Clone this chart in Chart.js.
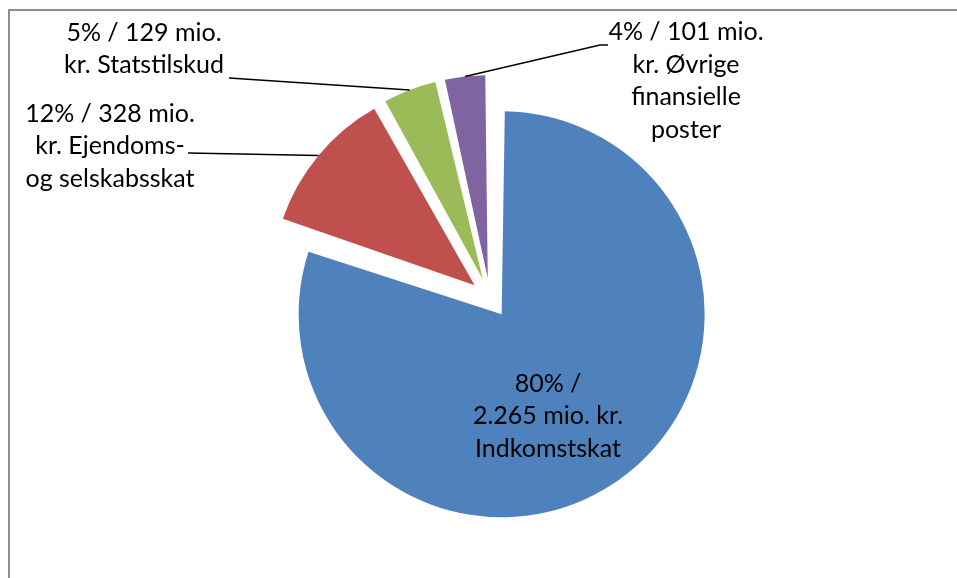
<!DOCTYPE html>
<html>
<head>
<meta charset="utf-8">
<script src="https://cdn.jsdelivr.net/npm/chart.js@4.4.1/dist/chart.umd.min.js"></script>
<style>
  html, body { margin: 0; padding: 0; background: #fff; overflow: hidden; }
  #frame { position: absolute; left: 8px; top: 9px; width: 960px; height: 580px;
           border-left: 2px solid #8e8e8e; border-top: 2px solid #8e8e8e; }
  #chart { position: absolute; left: 0; top: 0; }
</style>
</head>
<body>
<div id="frame"></div>
<canvas id="chart" width="957" height="578"></canvas>
<script>
const categories = ['Indkomstskat', 'Ejendoms- og selskabsskat', 'Statstilskud', 'Øvrige finansielle poster'];
const amounts = [2265, 328, 129, 101]; // mio. kr.
const labelLines = [
  ['80% /', '2.265 mio. kr.', 'Indkomstskat'],
  ['12% / 328 mio.', 'kr. Ejendoms-', 'og selskabsskat'],
  ['5% / 129 mio.', 'kr. Statstilskud'],
  ['4% / 101 mio.', 'kr. Øvrige', 'finansielle', 'poster']
];
const sliceColors = ['#4F81BD', '#C0504D', '#9BBB59', '#8064A2'];

const explode = 20;   // px every slice is pulled out from the centre
const pieRadius = 203;
const lineGap = 32.5;
// label block centre + leader line start, relative to the pie centre
const labelSpots = [
  { x: 58, y: 118 },
  { x: -380, y: -152, line: [[-302, -145]] },
  { x: -346, y: -249, line: [[-261, -220]] },
  { x: 196, y: -217, line: [[118, -253], [110, -253]] }
];

// chart.js also grows an offset arc by offset/4 * fix; this is that fix
function growFix(circ) {
  return 1 - Math.sin(Math.min(Math.PI, circ));
}

function pulled(arc, r) {
  const half = (arc.startAngle + arc.endAngle) / 2;
  const off = arc.options.offset / 4;
  return { x: arc.x + Math.cos(half) * off, y: arc.y + Math.sin(half) * off, half: half, r: r };
}

const pieLabels = {
  id: 'pieLabels',
  beforeDatasetsDraw(chart) {
    // keep all slices on the same radius after the pull-out
    const meta = chart.getDatasetMeta(0);
    const base = meta.controller.outerRadius;
    meta.data.forEach(arc => {
      arc.outerRadius = base - arc.options.offset / 4 * growFix(arc.circumference);
    });
  },
  afterDatasetsDraw(chart) {
    const ctx = chart.ctx;
    const area = chart.chartArea;
    const cx = (area.left + area.right) / 2;
    const cy = (area.top + area.bottom) / 2;
    const meta = chart.getDatasetMeta(0);
    const base = meta.controller.outerRadius;
    ctx.save();
    ctx.font = '25px Lato';
    ctx.fillStyle = '#000';
    ctx.strokeStyle = '#000';
    ctx.lineWidth = 1.5;
    ctx.textAlign = 'center';
    ctx.textBaseline = 'middle';
    meta.data.forEach((arc, i) => {
      const spot = labelSpots[i];
      if (spot.line) {
        const a = pulled(arc, base);
        ctx.beginPath();
        spot.line.forEach((pt, k) => {
          if (k === 0) ctx.moveTo(cx + pt[0], cy + pt[1]);
          else ctx.lineTo(cx + pt[0], cy + pt[1]);
        });
        ctx.lineTo(a.x + Math.cos(a.half) * a.r, a.y + Math.sin(a.half) * a.r);
        ctx.stroke();
      }
      const lines = labelLines[i];
      lines.forEach((t, k) => {
        ctx.fillText(t, cx + spot.x, cy + spot.y + (k - (lines.length - 1) / 2) * lineGap);
      });
    });
    ctx.restore();
  }
};

new Chart(document.getElementById('chart'), {
  type: 'pie',
  data: {
    labels: categories,
    datasets: [{
      data: amounts,
      backgroundColor: sliceColors,
      borderWidth: 0,
      radius: pieRadius,
      offset: explode * 4,
      hoverOffset: 0
    }]
  },
  options: {
    responsive: false,
    animation: false,
    layout: { padding: { left: 23, right: 0, top: 18, bottom: 0 } },
    plugins: {
      legend: { display: false },
      tooltip: { enabled: false }
    }
  },
  plugins: [pieLabels]
});
</script>
</body>
</html>
